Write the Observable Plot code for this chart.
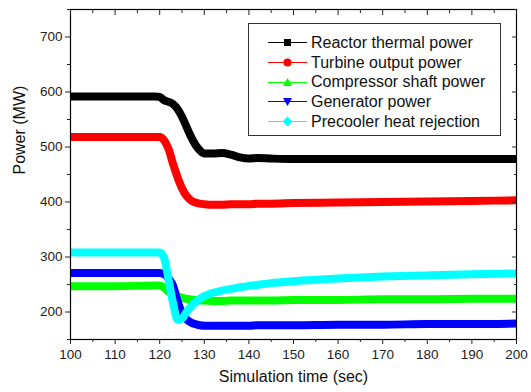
<!DOCTYPE html>
<html>
<head>
<meta charset="utf-8">
<script src="https://cdn.jsdelivr.net/npm/d3@7"></script>
<script src="https://cdn.jsdelivr.net/npm/@observablehq/plot@0.6"></script>
<style>
  body { margin: 0; background: white; }
  #wrap { position: relative; width: 531px; height: 392px; font-family: "Liberation Sans", Arial, sans-serif; }
  #legend { position: absolute; left: 248px; top: 23px; width: 253px; height: 113px; box-sizing: border-box;
            border: 1px solid #333; background: white; padding-top: 9px; }
  .row { display: flex; align-items: center; height: 19.7px; font-size: 16px; color: #111; }
  .row svg { margin-left: 19px; margin-right: 3px; }
</style>
</head>
<body>
<div id="wrap"></div>
<script>
// Time (sec)
const time = [100, 110, 119, 120, 121, 122, 123, 124, 125, 126, 127, 128, 129, 130, 132, 134, 136, 138, 140, 142, 145, 150, 160, 170, 180, 190, 200];
// Power (MW)
const reactor    = [592, 592, 592, 591, 585, 582, 578, 569, 555, 537, 519, 504, 494, 488, 488, 489, 486, 481, 479, 480, 479, 478, 478, 478, 478, 478, 478];
const turbine    = [518, 518, 518, 518, 512, 496, 469, 445, 425, 411, 403, 399, 397, 396, 395, 395, 396, 396, 396, 397, 397, 398, 399, 400, 401, 402, 403];
const compressor = [247, 247, 248, 248, 244, 237, 231, 228, 226, 224, 223, 222, 221, 221, 220, 220, 221, 221, 221, 221, 221, 222, 222, 223, 223, 224, 224];
const generator  = [271, 271, 271, 271, 269, 261, 248, 220, 198, 187, 181, 178, 176, 175, 175, 175, 175, 175, 175, 176, 176, 176, 177, 177, 178, 178, 179];
const precooler  = [308, 308, 308, 308, 298, 258, 216, 186, 188, 200, 210, 218, 224, 229, 235, 239, 242, 245, 247.5, 249.5, 252.5, 256, 261, 264.5, 266.5, 268.5, 270];

const seriesNames = ["Reactor thermal power", "Turbine output power", "Compressor shaft power", "Generator power", "Precooler heat rejection"];
const seriesColors = ["#000000", "#ff0000", "#00ff00", "#0000ff", "#00ffff"];
const seriesSymbols = ["square", "circle", "triangle-up", "triangle-down", "diamond"];
const seriesValues = [reactor, turbine, compressor, generator, precooler];

const xMajor = d3.range(100, 201, 10);
const xMinor = d3.range(105, 200, 10);
const yMajor = d3.range(200, 701, 100);
const yMinor = d3.range(150, 751, 100);

const marks = [];
seriesValues.forEach((vals, i) => {
  const data = time.map((t, j) => ({t, v: vals[j]}));
  marks.push(Plot.line(data, {x: "t", y: "v", stroke: seriesColors[i], strokeWidth: 8, curve: "monotone-x", clip: true, strokeLinecap: "butt"}));
});
const blank = () => "";
marks.push(
  Plot.frame({stroke: "black", strokeWidth: 1.2}),
  Plot.axisX({ticks: xMajor, tickSize: 5, tickPadding: 5, label: null, fontSize: 13.5}),
  Plot.axisX({ticks: xMinor, tickSize: 3, tickFormat: blank, label: null}),
  Plot.axisX({anchor: "top", ticks: xMajor, tickSize: -5, tickFormat: blank, label: null}),
  Plot.axisX({anchor: "top", ticks: xMinor, tickSize: -3, tickFormat: blank, label: null}),
  Plot.axisY({ticks: yMajor, tickSize: 5, tickPadding: 3, label: null, fontSize: 13.5}),
  Plot.axisY({ticks: yMinor, tickSize: 3, tickFormat: blank, label: null}),
  Plot.axisY({anchor: "right", ticks: yMajor, tickSize: -5, tickFormat: blank, label: null}),
  Plot.axisY({anchor: "right", ticks: yMinor, tickSize: -3, tickFormat: blank, label: null}),
  Plot.text(["Simulation time (sec)"], {frameAnchor: "bottom", dy: 42, fontSize: 16, fill: "#111"}),
  Plot.text(["Power (MW)"], {frameAnchor: "left", dx: -51, rotate: -90, fontSize: 16, fill: "#111"})
);

const chart = Plot.plot({
  width: 531, height: 392,
  marginLeft: 70, marginRight: 15, marginTop: 9, marginBottom: 53,
  style: {fontFamily: "'Liberation Sans', Arial, sans-serif", fontSize: "13.5px", color: "#222", background: "white", overflow: "visible"},
  x: {domain: [100, 200]},
  y: {domain: [150, 750]},
  marks
});
const wrap = document.getElementById("wrap");
wrap.appendChild(chart);

// Legend
const legend = document.createElement("div");
legend.id = "legend";
const symPaths = {
  "square": '<rect x="16" y="6" width="7" height="7" />',
  "circle": '<circle cx="19.5" cy="9.5" r="4" />',
  "triangle-up": '<path d="M19.5,5 L24,13 L15,13 Z" />',
  "triangle-down": '<path d="M15,6 L24,6 L19.5,14 Z" />',
  "diamond": '<path d="M19.5,4.5 L24.5,9.5 L19.5,14.5 L14.5,9.5 Z" />'
};
seriesNames.forEach((name, i) => {
  const row = document.createElement("div");
  row.className = "row";
  row.innerHTML = `<svg width="40" height="19" viewBox="0 0 40 19"><line x1="0" x2="39" y1="9.5" y2="9.5" stroke="${seriesColors[i]}" stroke-width="1"/><g fill="${seriesColors[i]}">${symPaths[seriesSymbols[i]]}</g></svg><span>${name}</span>`;
  legend.appendChild(row);
});
wrap.appendChild(legend);
</script>
</body>
</html>
